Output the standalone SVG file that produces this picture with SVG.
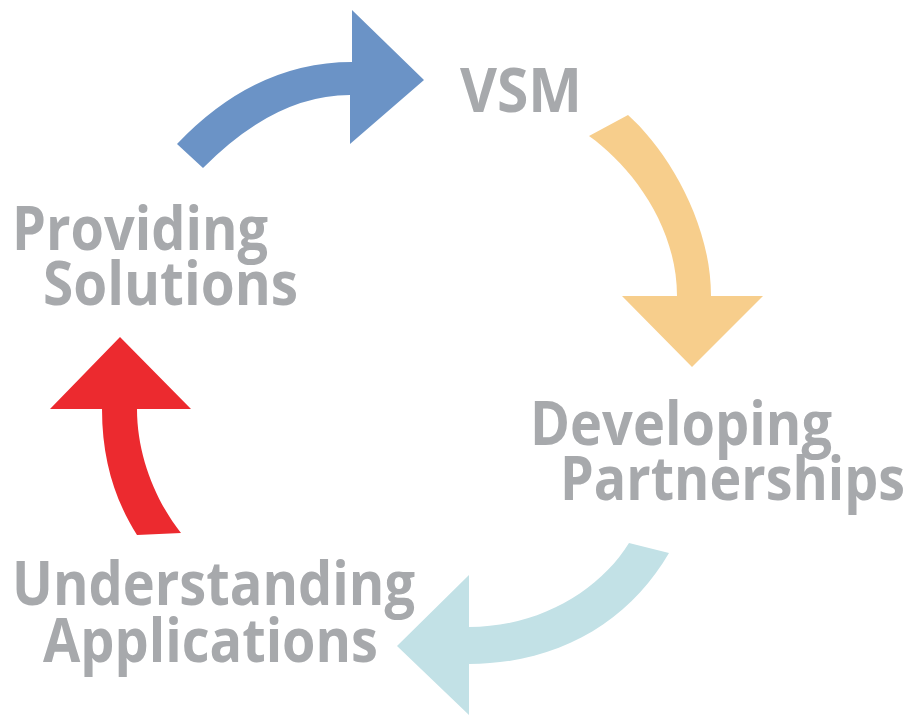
<svg xmlns="http://www.w3.org/2000/svg" width="910" height="715" viewBox="0 0 910 715">
<style>
.t{font-family:"Open Sans","Noto Sans","Liberation Sans",sans-serif;font-weight:bold;font-size:60px;fill:#A7A9AC}
</style>
<rect width="910" height="715" fill="#FFFFFF"/>
<g id="connectors">
<path id="arrow-blue" fill="#6B93C6" d="M177,144 Q255,62 352,62 L352,10 L424,80 L350,144 L350,95 Q275,95 203,168 Z"/>
<path id="arrow-orange" fill="#F7CE8C" d="M628,115 C665,148 711,220 711,296 L763,296 L692,367 L622,296 L677,296 C677,225 630,165 589,136 Z"/>
<path id="arrow-teal" fill="#C2E1E6" d="M669,553 C630,620 560,664 469,664 L469,715 L397,646 L469,575 L469,627 C540,627 600,590 629,543 Z"/>
<path id="arrow-red" fill="#EC2A2F" d="M120,337 L191,409 L137,409 C137,455 155,500 181,533 L137,535 C115,500 102,460 102,409 L50,409 Z"/>
</g>
<g id="node-vsm"><text class="t" x="460" y="112" textLength="122" lengthAdjust="spacingAndGlyphs">VSM</text></g>
<g id="node-developing"><text class="t" x="530" y="445" textLength="302" lengthAdjust="spacingAndGlyphs">Developing</text><text class="t" x="560" y="500" textLength="345" lengthAdjust="spacingAndGlyphs">Partnerships</text></g>
<g id="node-understanding"><text class="t" x="12" y="605" textLength="403" lengthAdjust="spacingAndGlyphs">Understanding</text><text class="t" x="43" y="662" textLength="335" lengthAdjust="spacingAndGlyphs">Applications</text></g>
<g id="node-providing"><text class="t" x="12" y="250" textLength="256" lengthAdjust="spacingAndGlyphs">Providing</text><text class="t" x="43" y="305" textLength="255" lengthAdjust="spacingAndGlyphs">Solutions</text></g>
</svg>
